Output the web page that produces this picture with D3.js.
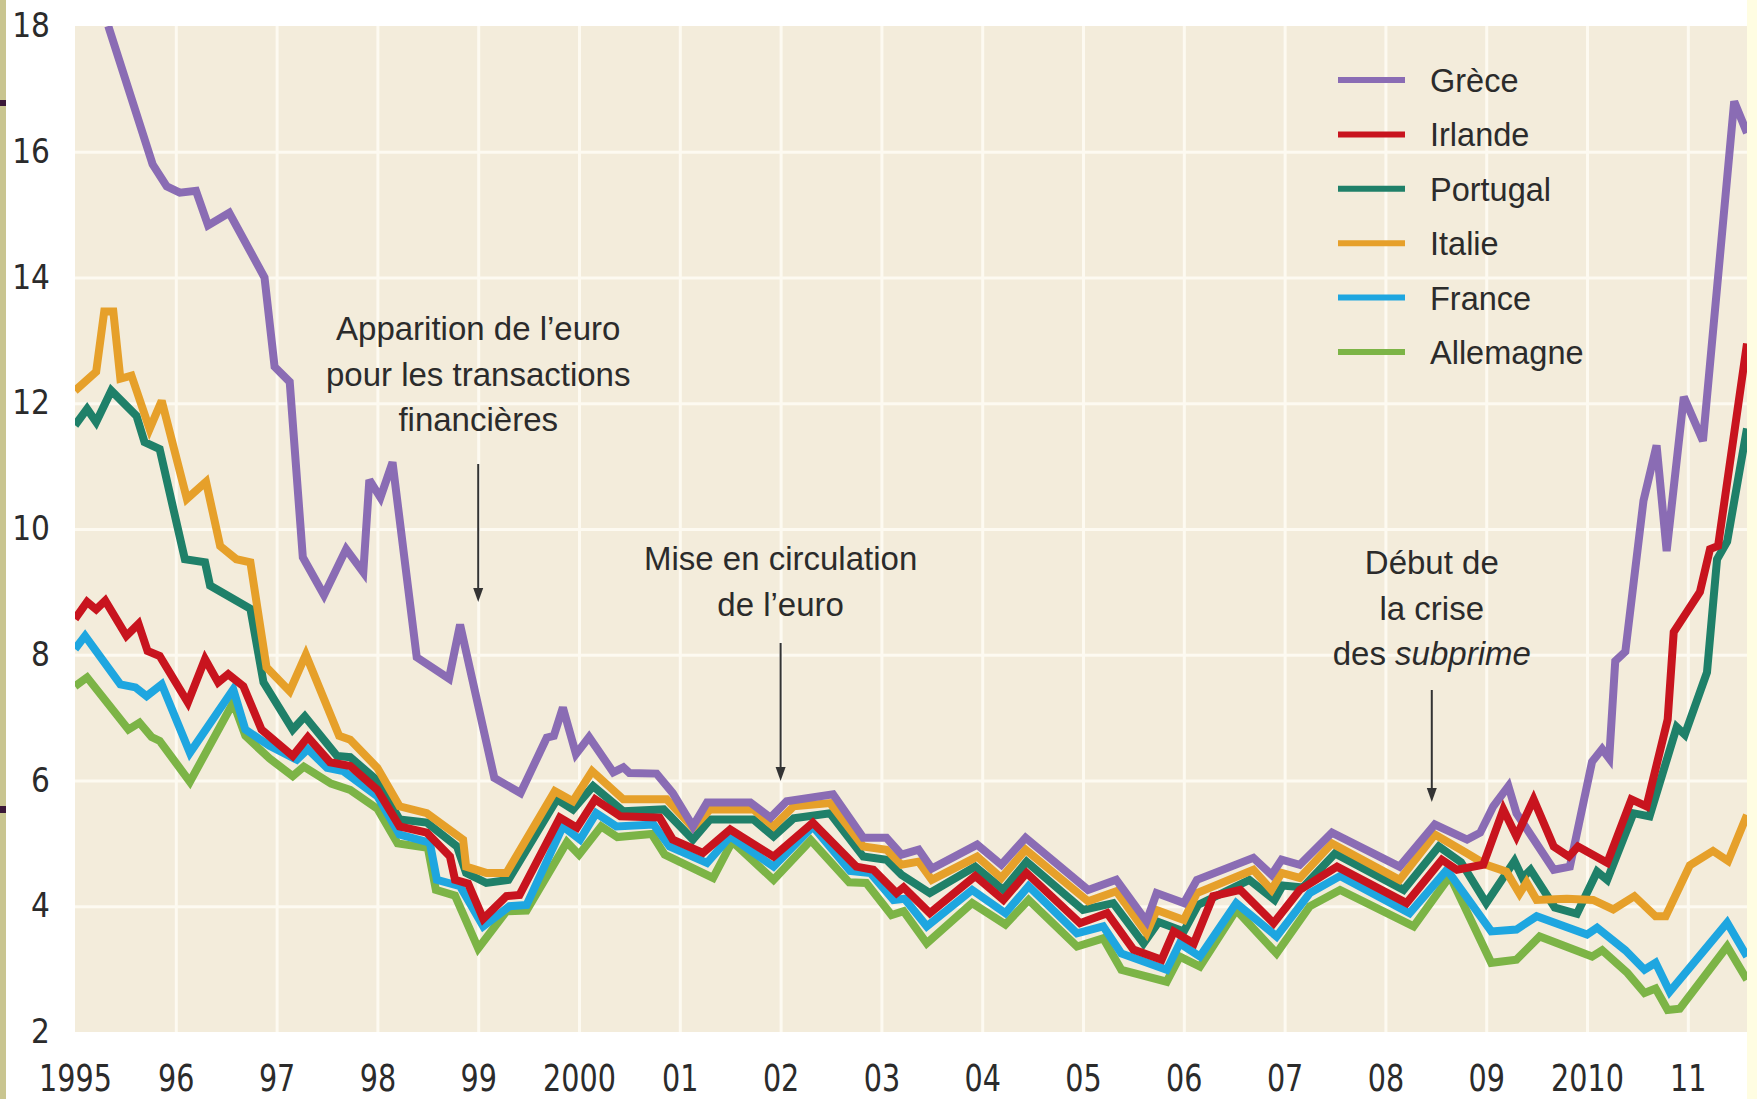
<!DOCTYPE html>
<html lang="fr">
<head>
<meta charset="utf-8">
<title>Taux d'intérêt à long terme</title>
<script src="https://cdn.jsdelivr.net/npm/d3@7"></script>
<style>
  html, body { margin: 0; padding: 0; background: #ffffff; }
  svg { display: block; }
</style>
</head>
<body>
<div id="chart"></div>
<script>
// Taux d'intérêt à long terme, 1995 - mi-2011
const years = [1995, 1996, 1997, 1998, 1999, 2000, 2001, 2002, 2003, 2004, 2005, 2006, 2007, 2008, 2009, 2010, 2011];
const yearLabels = ["1995", "96", "97", "98", "99", "2000", "01", "02", "03", "04", "05", "06", "07", "08", "09", "2010", "11"];
const rateTicks = [2, 4, 6, 8, 10, 12, 14, 16, 18];

const countries = ["Grèce", "Irlande", "Portugal", "Italie", "France", "Allemagne"];

// [année, taux en %]
const grece = [[1995.33,18.0],[1995.77,15.8],[1995.91,15.45],[1996.04,15.35],[1996.2,15.38],[1996.32,14.83],[1996.53,15.03],[1996.88,14.0],[1996.98,12.58],[1997.13,12.34],[1997.26,9.55],[1997.47,8.95],[1997.69,9.68],[1997.86,9.31],[1997.92,10.78],[1998.03,10.5],[1998.15,11.06],[1998.39,7.96],[1998.71,7.62],[1998.82,8.48],[1999.16,6.04],[1999.42,5.8],[1999.68,6.68],[1999.75,6.71],[1999.84,7.16],[1999.97,6.42],[2000.1,6.69],[2000.34,6.13],[2000.44,6.21],[2000.5,6.12],[2000.77,6.11],[2000.93,5.8],[2001.13,5.27],[2001.27,5.65],[2001.7,5.65],[2001.9,5.41],[2002.06,5.67],[2002.52,5.78],[2002.82,5.09],[2003.05,5.09],[2003.2,4.82],[2003.37,4.9],[2003.5,4.6],[2003.95,4.98],[2004.19,4.66],[2004.43,5.09],[2005.05,4.26],[2005.33,4.42],[2005.63,3.76],[2005.73,4.21],[2006.0,4.05],[2006.13,4.42],[2006.69,4.77],[2006.87,4.5],[2006.97,4.74],[2007.15,4.66],[2007.47,5.17],[2008.14,4.63],[2008.49,5.3],[2008.81,5.06],[2008.94,5.17],[2009.07,5.59],[2009.22,5.91],[2009.3,5.48],[2009.67,4.58],[2009.83,4.63],[2010.05,6.3],[2010.15,6.5],[2010.22,6.35],[2010.28,7.9],[2010.38,8.05],[2010.56,10.45],[2010.69,11.33],[2010.79,9.65],[2010.96,12.1],[2011.15,11.4],[2011.46,16.8],[2011.587,16.3]];

const irlande = [[1995.0,8.57],[1995.12,8.84],[1995.21,8.72],[1995.3,8.86],[1995.51,8.3],[1995.63,8.49],[1995.72,8.06],[1995.84,7.98],[1996.12,7.24],[1996.29,7.93],[1996.42,7.56],[1996.52,7.69],[1996.67,7.5],[1996.85,6.81],[1997.16,6.39],[1997.31,6.69],[1997.53,6.29],[1997.73,6.23],[1998.0,5.85],[1998.22,5.27],[1998.49,5.17],[1998.72,4.79],[1998.77,4.42],[1998.9,4.36],[1999.05,3.8],[1999.28,4.16],[1999.41,4.18],[1999.81,5.41],[1999.98,5.25],[2000.16,5.7],[2000.41,5.43],[2000.8,5.41],[2000.93,5.06],[2001.23,4.85],[2001.5,5.22],[2001.93,4.79],[2002.32,5.33],[2002.75,4.63],[2002.92,4.58],[2003.15,4.21],[2003.22,4.3],[2003.48,3.89],[2003.93,4.48],[2004.21,4.1],[2004.44,4.53],[2004.97,3.73],[2005.24,3.89],[2005.5,3.31],[2005.78,3.15],[2005.9,3.6],[2006.1,3.41],[2006.29,4.16],[2006.56,4.26],[2006.89,3.73],[2007.15,4.26],[2007.52,4.63],[2008.21,4.05],[2008.56,4.74],[2008.71,4.58],[2008.97,4.66],[2009.17,5.54],[2009.3,5.11],[2009.47,5.7],[2009.67,4.95],[2009.82,4.79],[2009.91,4.95],[2010.2,4.69],[2010.44,5.7],[2010.59,5.59],[2010.8,6.97],[2010.86,8.36],[2011.12,9.0],[2011.22,9.68],[2011.3,9.73],[2011.587,12.95]];

const portugal = [[1995.0,11.65],[1995.12,11.91],[1995.21,11.7],[1995.36,12.2],[1995.61,11.8],[1995.69,11.38],[1995.84,11.27],[1996.09,9.52],[1996.29,9.47],[1996.34,9.1],[1996.74,8.73],[1996.87,7.56],[1997.16,6.81],[1997.28,7.02],[1997.6,6.39],[1997.73,6.37],[1998.0,6.0],[1998.22,5.38],[1998.49,5.33],[1998.79,4.95],[1998.88,4.53],[1999.08,4.37],[1999.3,4.42],[1999.78,5.7],[1999.94,5.54],[2000.14,5.91],[2000.44,5.51],[2000.84,5.54],[2001.13,5.06],[2001.3,5.38],[2001.73,5.38],[2001.93,5.11],[2002.13,5.4],[2002.49,5.48],[2002.82,4.79],[2003.05,4.74],[2003.2,4.5],[2003.48,4.21],[2003.93,4.63],[2004.21,4.26],[2004.44,4.71],[2005.0,3.94],[2005.3,4.05],[2005.6,3.41],[2005.75,3.75],[2006.0,3.6],[2006.14,4.02],[2006.65,4.42],[2006.9,4.1],[2006.98,4.33],[2007.18,4.3],[2007.5,4.84],[2008.18,4.26],[2008.53,4.95],[2008.75,4.7],[2009.0,4.05],[2009.28,4.72],[2009.36,4.45],[2009.44,4.58],[2009.68,3.98],[2009.9,3.88],[2010.1,4.55],[2010.2,4.42],[2010.46,5.48],[2010.62,5.43],[2010.89,6.85],[2010.97,6.73],[2011.19,7.72],[2011.29,9.52],[2011.39,9.8],[2011.587,11.6]];

const italie = [[1995.0,12.2],[1995.21,12.5],[1995.29,13.46],[1995.38,13.46],[1995.45,12.39],[1995.56,12.44],[1995.74,11.59],[1995.86,12.04],[1996.11,10.48],[1996.3,10.75],[1996.44,9.73],[1996.6,9.52],[1996.74,9.47],[1996.9,7.8],[1997.13,7.42],[1997.29,8.0],[1997.62,6.71],[1997.73,6.65],[1998.0,6.2],[1998.22,5.59],[1998.49,5.48],[1998.85,5.06],[1998.88,4.63],[1999.08,4.53],[1999.28,4.53],[1999.76,5.83],[1999.94,5.67],[2000.13,6.15],[2000.44,5.7],[2000.87,5.7],[2001.13,5.25],[2001.3,5.54],[2001.73,5.54],[2001.93,5.27],[2002.13,5.59],[2002.49,5.64],[2002.82,4.95],[2003.05,4.9],[2003.2,4.66],[2003.37,4.71],[2003.5,4.42],[2003.95,4.79],[2004.19,4.45],[2004.43,4.9],[2005.05,4.08],[2005.33,4.24],[2005.63,3.57],[2005.73,3.94],[2006.0,3.78],[2006.13,4.21],[2006.69,4.58],[2006.87,4.26],[2006.97,4.53],[2007.15,4.45],[2007.47,5.0],[2008.14,4.42],[2008.49,5.14],[2008.8,4.85],[2009.0,4.66],[2009.2,4.55],[2009.33,4.2],[2009.4,4.38],[2009.5,4.1],[2009.8,4.12],[2010.06,4.1],[2010.26,3.95],[2010.47,4.16],[2010.68,3.84],[2010.78,3.84],[2011.02,4.65],[2011.25,4.88],[2011.4,4.72],[2011.587,5.45]];

const france = [[1995.0,8.09],[1995.1,8.3],[1995.45,7.53],[1995.6,7.48],[1995.71,7.34],[1995.86,7.53],[1996.14,6.44],[1996.57,7.45],[1996.69,6.81],[1996.93,6.55],[1997.2,6.33],[1997.31,6.5],[1997.5,6.2],[1997.66,6.15],[1998.0,5.75],[1998.22,5.14],[1998.52,5.01],[1998.59,4.42],[1998.82,4.32],[1999.05,3.68],[1999.31,4.0],[1999.48,4.02],[1999.84,5.27],[2000.01,5.06],[2000.17,5.48],[2000.37,5.27],[2000.74,5.3],[2000.9,4.95],[2001.27,4.69],[2001.5,5.11],[2001.93,4.63],[2002.32,5.27],[2002.69,4.56],[2002.89,4.53],[2003.12,4.1],[2003.23,4.12],[2003.45,3.68],[2003.9,4.26],[2004.23,3.89],[2004.46,4.32],[2004.94,3.57],[2005.2,3.68],[2005.38,3.25],[2005.83,2.99],[2005.96,3.41],[2006.16,3.2],[2006.52,4.05],[2006.92,3.52],[2007.25,4.21],[2007.55,4.48],[2008.24,3.89],[2008.61,4.58],[2009.05,3.6],[2009.3,3.63],[2009.5,3.84],[2010.0,3.55],[2010.1,3.66],[2010.38,3.3],[2010.57,2.99],[2010.68,3.1],[2010.82,2.64],[2011.39,3.74],[2011.587,3.2]];

const allemagne = [[1995.0,7.5],[1995.12,7.64],[1995.53,6.81],[1995.64,6.92],[1995.76,6.69],[1995.84,6.63],[1996.14,5.98],[1996.57,7.24],[1996.69,6.71],[1996.93,6.35],[1997.16,6.07],[1997.27,6.22],[1997.54,5.95],[1997.73,5.85],[1998.0,5.55],[1998.2,5.0],[1998.5,4.93],[1998.58,4.26],[1998.77,4.17],[1999.0,3.33],[1999.28,3.92],[1999.48,3.93],[1999.88,5.02],[2000.0,4.82],[2000.22,5.27],[2000.38,5.1],[2000.72,5.15],[2000.85,4.82],[2001.33,4.45],[2001.52,5.03],[2001.93,4.42],[2002.3,5.05],[2002.68,4.38],[2002.85,4.37],[2003.1,3.86],[2003.22,3.92],[2003.45,3.41],[2003.9,4.05],[2004.23,3.71],[2004.46,4.1],[2004.94,3.36],[2005.2,3.49],[2005.38,2.99],[2005.83,2.8],[2005.96,3.2],[2006.16,3.04],[2006.52,3.94],[2006.92,3.25],[2007.25,4.0],[2007.55,4.26],[2008.28,3.68],[2008.64,4.48],[2009.05,3.1],[2009.3,3.15],[2009.53,3.52],[2010.05,3.2],[2010.15,3.3],[2010.4,2.94],[2010.57,2.62],[2010.68,2.69],[2010.8,2.35],[2010.92,2.37],[2011.39,3.36],[2011.587,2.83]];

const seriesValues = [grece, irlande, portugal, italie, france, allemagne];
const colors = ["#8a6cb4", "#c8141e", "#1f8069", "#e6a02a", "#1ea6e0", "#7cb446"];
// order in which lines are painted (last one on top)
const drawOrder = ["Allemagne", "France", "Portugal", "Italie", "Grèce", "Irlande"];

const series = countries.map((name, i) => ({name: name, values: seriesValues[i], color: colors[i]}));

// Dimensions
const W = 1757, H = 1099;
const margin = {top: 26, right: 10, bottom: 67, left: 75};
const width = W - margin.left - margin.right;
const height = H - margin.top - margin.bottom;

const txt = "#2b2b2b";
const tickFont = "'Liberation Sans Narrow', 'DejaVu Sans Condensed', 'Liberation Sans', sans-serif";
const textFont = "'Liberation Sans', Arial, sans-serif";

const x = d3.scaleLinear()
    .domain([1995, d3.max(seriesValues, s => d3.max(s, d => d[0]))])
    .range([0, width]);
const y = d3.scaleLinear().domain([2, 18]).range([height, 0]);

const svg = d3.select("#chart").append("svg")
    .attr("width", W)
    .attr("height", H);

svg.append("rect").attr("width", W).attr("height", H).attr("fill", "#ffffff");

// bords de la diapositive
svg.append("rect").attr("x", 0).attr("y", 0).attr("width", 6).attr("height", H).attr("fill", "#c9c590");
svg.append("rect").attr("x", 0).attr("y", 100).attr("width", 6).attr("height", 6).attr("fill", "#3b1838");
svg.append("rect").attr("x", 0).attr("y", 806).attr("width", 6).attr("height", 7).attr("fill", "#3b1838");
svg.append("rect").attr("x", margin.left + width).attr("y", 0).attr("width", W - margin.left - width).attr("height", H).attr("fill", "#fffde2");

const g = svg.append("g")
    .attr("transform", "translate(" + margin.left + "," + margin.top + ")");

g.append("rect")
    .attr("width", width)
    .attr("height", height)
    .attr("fill", "#f3ecdb");

g.append("clipPath").attr("id", "plot-clip")
    .append("rect").attr("width", width).attr("height", height);

// grille
const gridY = g.append("g")
    .call(d3.axisLeft(y).tickValues(rateTicks.slice(1, -1)).tickSize(-width).tickFormat(""));
const gridX = g.append("g")
    .attr("transform", "translate(0," + height + ")")
    .call(d3.axisBottom(x).tickValues(years.slice(1)).tickSize(height).tickFormat(""));
gridX.selectAll(".tick line").attr("y2", -height);
[gridX, gridY].forEach(gr => {
    gr.select(".domain").remove();
    gr.selectAll(".tick line").attr("stroke", "#fdfaf1").attr("stroke-width", 3);
});

// axes (étiquettes seulement)
const yAxis = g.append("g")
    .call(d3.axisLeft(y).tickValues(rateTicks).tickSize(0).tickPadding(25).tickFormat(d3.format("d")));
const xAxis = g.append("g")
    .attr("transform", "translate(0," + height + ")")
    .call(d3.axisBottom(x).tickValues(years).tickSize(0).tickPadding(33).tickFormat((d, i) => yearLabels[i]));
yAxis.selectAll("text").attr("font-size", 33).attr("font-family", tickFont).attr("fill", txt);
xAxis.selectAll("text")
    .attr("font-size", 37)
    .attr("font-family", tickFont)
    .attr("fill", txt)
    .attr("transform", "scale(0.86,1)");
[xAxis, yAxis].forEach(a => a.select(".domain").remove());

// courbes
const line = d3.line()
    .x(d => x(d[0]))
    .y(d => y(d[1]));

const byName = {};
series.forEach(s => byName[s.name] = s);

g.append("g").attr("clip-path", "url(#plot-clip)")
    .selectAll("path")
    .data(drawOrder.map(n => byName[n]))
    .join("path")
    .attr("d", d => line(d.values))
    .attr("fill", "none")
    .attr("stroke", d => d.color)
    .attr("stroke-width", 8)
    .attr("stroke-linejoin", "miter")
    .attr("stroke-miterlimit", 3);

// légende
const legend = svg.append("g").attr("transform", "translate(1338,80)");
const item = legend.selectAll("g")
    .data(series)
    .join("g")
    .attr("transform", (d, i) => "translate(0," + (i * 54.4) + ")");
item.append("line")
    .attr("x1", 0).attr("x2", 67)
    .attr("stroke", d => d.color)
    .attr("stroke-width", 6);
item.append("text")
    .attr("x", 92)
    .attr("y", 12)
    .attr("font-family", textFont)
    .attr("font-size", 32.5)
    .attr("fill", txt)
    .text(d => d.name);

// annotations
const notes = [
    {year: 1999, lines: [["Apparition de l’euro"], ["pour les transactions"], ["financières"]], top: 340, arrowFrom: 464, arrowTo: 602},
    {year: 2002, lines: [["Mise en circulation"], ["de l’euro"]], top: 570, arrowFrom: 643, arrowTo: 781},
    {year: 2008.46, lines: [["Début de"], ["la crise"], ["des ", "subprime"]], top: 574, arrowFrom: 690, arrowTo: 802}
];

notes.forEach(n => {
    const cx = margin.left + x(n.year);
    const t = svg.append("text")
        .attr("font-family", textFont)
        .attr("font-size", 33)
        .attr("fill", txt)
        .attr("text-anchor", "middle");
    n.lines.forEach((parts, i) => {
        const row = t.append("tspan").attr("x", cx).attr("y", n.top + i * 45.5);
        row.append("tspan").text(parts[0]);
        if (parts.length > 1) row.append("tspan").attr("font-style", "italic").text(parts[1]);
    });
    svg.append("line")
        .attr("x1", cx).attr("x2", cx)
        .attr("y1", n.arrowFrom).attr("y2", n.arrowTo - 10)
        .attr("stroke", "#333")
        .attr("stroke-width", 2);
    svg.append("path")
        .attr("d", "M" + (cx - 5) + "," + (n.arrowTo - 14) + "L" + (cx + 5) + "," + (n.arrowTo - 14) + "L" + cx + "," + n.arrowTo + "Z")
        .attr("fill", "#333");
});
</script>
</body>
</html>
